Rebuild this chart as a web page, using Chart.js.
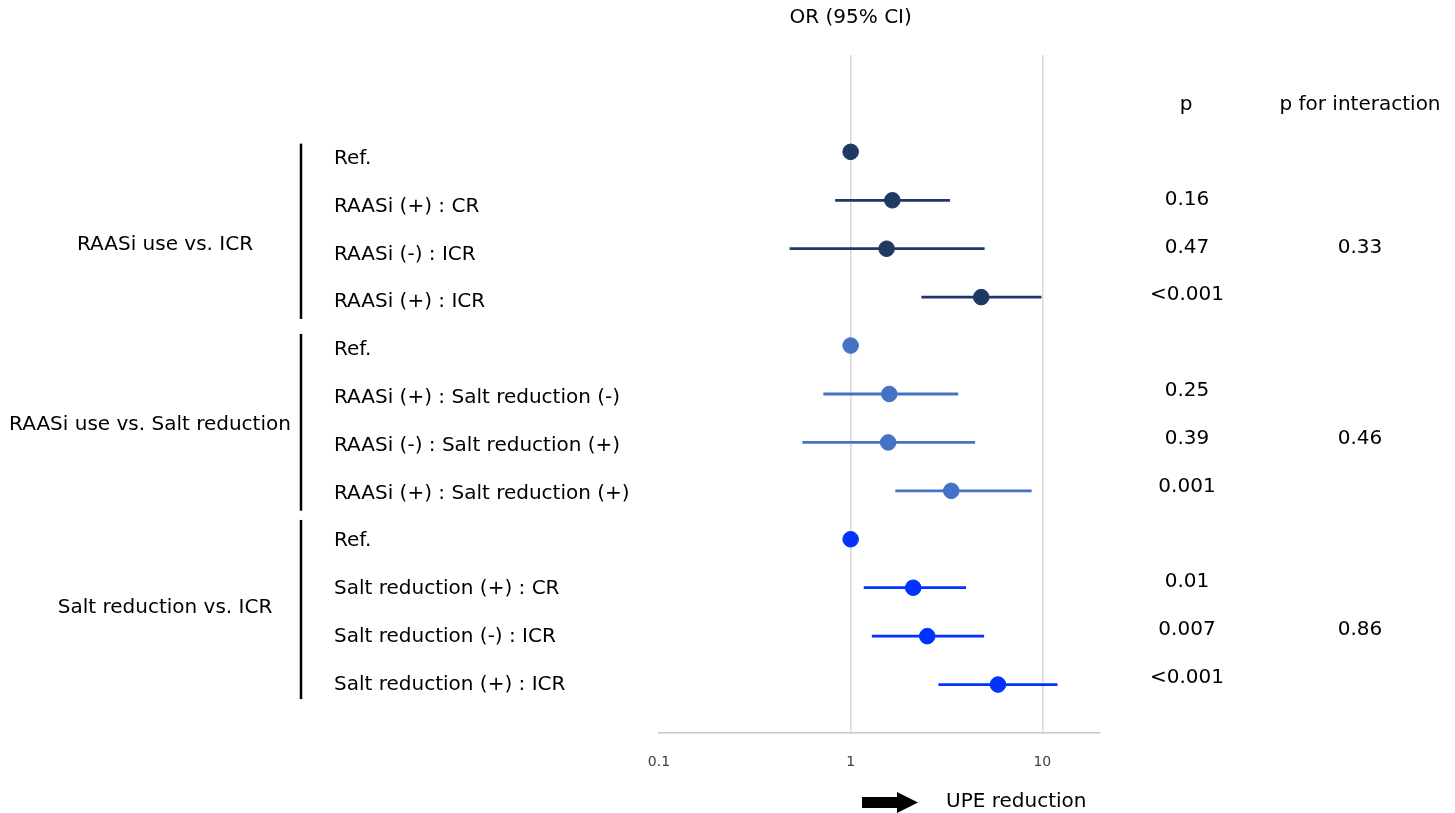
<!DOCTYPE html>
<html>
<head>
<meta charset="utf-8">
<script src="https://cdn.jsdelivr.net/npm/chart.js@4.4.0/dist/chart.umd.min.js"></script>
<style>
  html, body { margin: 0; padding: 0; background: #fff; }
  #wrap { width: 1455px; height: 813px; }
</style>
</head>
<body>
<div id="wrap"><canvas id="forest" width="1455" height="813"></canvas></div>
<script>
// rows, top to bottom
var rowLabels = [
    'Ref.', 'RAASi (+) : CR', 'RAASi (-) : ICR', 'RAASi (+) : ICR',
    'Ref.', 'RAASi (+) : Salt reduction (-)', 'RAASi (-) : Salt reduction (+)', 'RAASi (+) : Salt reduction (+)',
    'Ref.', 'Salt reduction (+) : CR', 'Salt reduction (-) : ICR', 'Salt reduction (+) : ICR'
];
var orValues = [1, 1.65, 1.54, 4.8, 1, 1.59, 1.57, 3.35, 1, 2.12, 2.51, 5.87];
var ciLower  = [null, 0.83, 0.48, 2.34, null, 0.72, 0.56, 1.71, null, 1.17, 1.29, 2.87];
var ciUpper  = [null, 3.3, 5.0, 9.9, null, 3.64, 4.46, 8.8, null, 4.0, 4.97, 12.0];
var pValues  = ['', '0.16', '0.47', '<0.001', '', '0.25', '0.39', '0.001', '', '0.01', '0.007', '<0.001'];

var groupNames = ['RAASi use vs. ICR', 'RAASi use vs. Salt reduction', 'Salt reduction vs. ICR'];
var groupRows = [[0, 3], [4, 7], [8, 11]];
var pInteraction = ['0.33', '0.46', '0.86'];
var groupColors = ['#1f3864', '#4472c4', '#0033ff'];

var xTicks = [0.1, 1, 10];

document.addEventListener('DOMContentLoaded', function() {
    var ctx = document.getElementById('forest').getContext('2d');
    var FONT = '"DejaVu Sans", Verdana, sans-serif';

    var datasets = [];
    // CI lines
    orValues.forEach(function(v, i) {
        if (ciLower[i] == null) return;
        var g = Math.floor(i / 4);
        datasets.push({
            type: 'line',
            data: [{x: ciLower[i], y: i}, {x: ciUpper[i], y: i}],
            borderColor: groupColors[g],
            borderWidth: 2.8,
            pointRadius: 0,
            fill: false
        });
    });
    // points per group
    groupRows.forEach(function(r, g) {
        var pts = [];
        for (var i = r[0]; i <= r[1]; i++) pts.push({x: orValues[i], y: i});
        datasets.push({
            type: 'scatter',
            data: pts,
            backgroundColor: groupColors[g],
            borderColor: groupColors[g],
            pointRadius: 7.8,
            pointHoverRadius: 7.8
        });
    });

    var textPlugin = {
        id: 'forestText',
        afterDraw: function(chart) {
            var c = chart.ctx, y = chart.scales.y, x = chart.scales.x;
            // text rows sit on a slightly tighter grid than the marks
            var textY = function(i) { return y.getPixelForValue(i) + 7 * (1 - i / 11); };
            c.save();
            c.fillStyle = '#000';
            c.font = '20px ' + FONT;
            c.textBaseline = 'middle';

            // headers
            c.textAlign = 'center';
            c.fillText('OR (95% CI)', x.getPixelForValue(1), 18);
            c.fillText('p', 1186, 105);
            c.fillText('p for interaction', 1360, 105);

            // row labels and p values
            rowLabels.forEach(function(lab, i) {
                c.textAlign = 'left';
                c.fillText(lab, 334, textY(i));
                if (pValues[i]) {
                    c.textAlign = 'center';
                    c.fillText(pValues[i], 1187, textY(i) - 7);
                }
            });

            // group labels, brackets, interaction p
            var groupMid = [1.92, 5.64, 9.41];
            var groupX = [165, 150, 165];
            var barSpan = [[-0.17, 3.45], [3.76, 7.41], [7.6, 11.3]];
            groupNames.forEach(function(name, g) {
                c.textAlign = 'center';
                c.fillText(name, groupX[g], y.getPixelForValue(groupMid[g]));
                c.fillText(pInteraction[g], 1360, textY(groupRows[g][0] + 2) - 7);
                c.strokeStyle = '#000';
                c.lineWidth = 2.5;
                c.beginPath();
                c.moveTo(301, y.getPixelForValue(barSpan[g][0]));
                c.lineTo(301, y.getPixelForValue(barSpan[g][1]));
                c.stroke();
            });

            // arrow + caption
            c.fillStyle = '#000';
            c.fillRect(862, 797, 36, 11);
            c.beginPath();
            c.moveTo(897, 792);
            c.lineTo(918, 802.5);
            c.lineTo(897, 813);
            c.closePath();
            c.fill();
            c.textAlign = 'left';
            c.fillText('UPE reduction', 946, 802);
            c.restore();
        }
    };

    new Chart(ctx, {
        data: { datasets: datasets },
        options: {
            responsive: false,
            maintainAspectRatio: false,
            animation: false,
            events: [],
            layout: { padding: { left: 659, right: 355, top: 55, bottom: 0 } },
            plugins: { legend: { display: false }, tooltip: { enabled: false } },
            scales: {
                x: {
                    type: 'logarithmic',
                    min: 0.1,
                    max: 20,
                    afterBuildTicks: function(s) {
                        s.ticks = xTicks.map(function(v) { return {value: v}; });
                    },
                    afterFit: function(s) { s.height = 80; },
                    grid: {
                        color: function(c) { return c.tick && c.tick.value === 0.1 ? 'rgba(0,0,0,0)' : '#d9d9d9'; },
                        lineWidth: 1.5,
                        drawTicks: false
                    },
                    border: { color: '#c8c8c8', width: 1.5 },
                    ticks: {
                        padding: 21,
                        color: '#404040',
                        font: { family: FONT, size: 14 },
                        callback: function(v) { return String(v); },
                        maxRotation: 0
                    }
                },
                y: {
                    type: 'linear',
                    display: false,
                    reverse: true,
                    min: -2,
                    max: 12
                }
            }
        },
        plugins: [textPlugin]
    });
});
</script>
</body>
</html>
